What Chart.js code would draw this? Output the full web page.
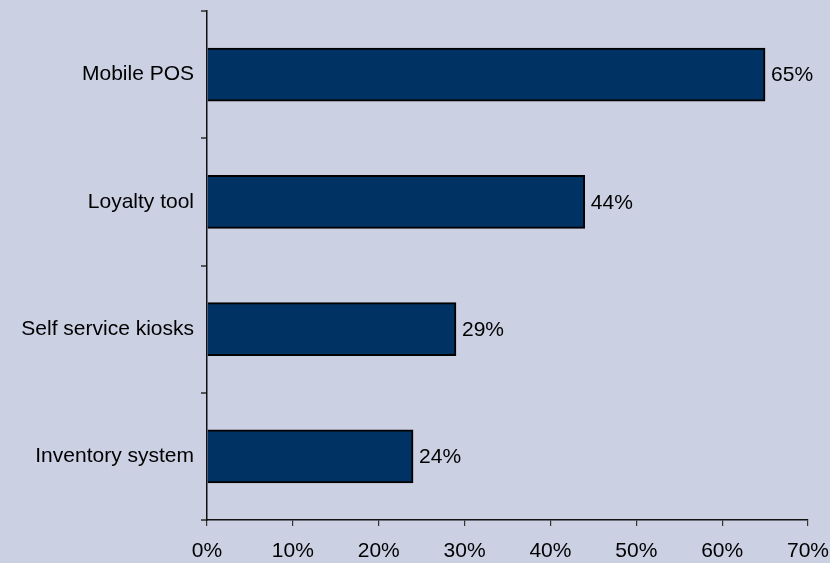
<!DOCTYPE html>
<html>
<head>
<meta charset="utf-8">
<script src="https://cdn.jsdelivr.net/npm/chart.js@4/dist/chart.umd.min.js"></script>
<style>
  html, body { margin: 0; padding: 0; background: #CBD0E3; }
  #wrap { width: 830px; height: 563px; }
</style>
</head>
<body>
<div id="wrap"><canvas id="c" width="830" height="563"></canvas></div>
<script>
// Share of respondents planning each technology
const categories = ['Mobile POS', 'Loyalty tool', 'Self service kiosks', 'Inventory system'];
const shares = [65, 44, 29, 24];
const xTicks = [0, 10, 20, 30, 40, 50, 60, 70];

const FONT = { family: '"Liberation Sans", Arial, sans-serif', size: 21 };
const TEXT_COLOR = '#000';

// Writes the percentage just past the end of each bar
const valueLabels = {
  id: 'valueLabels',
  afterDatasetsDraw(chart) {
    const ctx = chart.ctx;
    const meta = chart.getDatasetMeta(0);
    ctx.save();
    ctx.font = FONT.size + 'px ' + FONT.family;
    ctx.fillStyle = TEXT_COLOR;
    ctx.textAlign = 'left';
    ctx.textBaseline = 'middle';
    meta.data.forEach((bar, i) => {
      ctx.fillText(shares[i] + '%', bar.x + 6, bar.y + 1);
    });
    ctx.restore();
  }
};

new Chart(document.getElementById('c'), {
  type: 'bar',
  data: {
    labels: categories,
    datasets: [{
      data: shares,
      backgroundColor: '#003263',
      borderColor: '#000',
      borderWidth: 2,
      barThickness: 53
    }]
  },
  options: {
    indexAxis: 'y',
    responsive: false,
    animation: false,
    layout: { padding: { top: 11, right: 22, left: 0, bottom: 0 } },
    plugins: { legend: { display: false }, tooltip: { enabled: false } },
    scales: {
      x: {
        min: 0,
        max: 70,
        afterBuildTicks(scale) { scale.ticks = xTicks.map(v => ({ value: v })); },
        afterFit(scale) {
          scale.height = 43;
          scale.paddingLeft = 0;
          scale.paddingRight = 0;
        },
        ticks: {
          callback: v => v + '%',
          font: FONT,
          color: TEXT_COLOR,
          padding: 13,
          maxRotation: 0
        },
        grid: { drawOnChartArea: false, drawTicks: true, tickLength: 6, color: '#333', lineWidth: 1.2 },
        border: { color: '#111', width: 1.5 }
      },
      y: {
        offset: true,
        afterFit(scale) {
          scale.width = 207;
          scale.paddingTop = 0;
          scale.paddingBottom = 0;
        },
        ticks: { font: FONT, color: TEXT_COLOR, padding: 7 },
        grid: { offset: true, drawOnChartArea: false, drawTicks: true, tickLength: 6, color: '#555', lineWidth: 2 },
        border: { color: '#111', width: 1.5 }
      }
    }
  },
  plugins: [valueLabels]
});
</script>
</body>
</html>
